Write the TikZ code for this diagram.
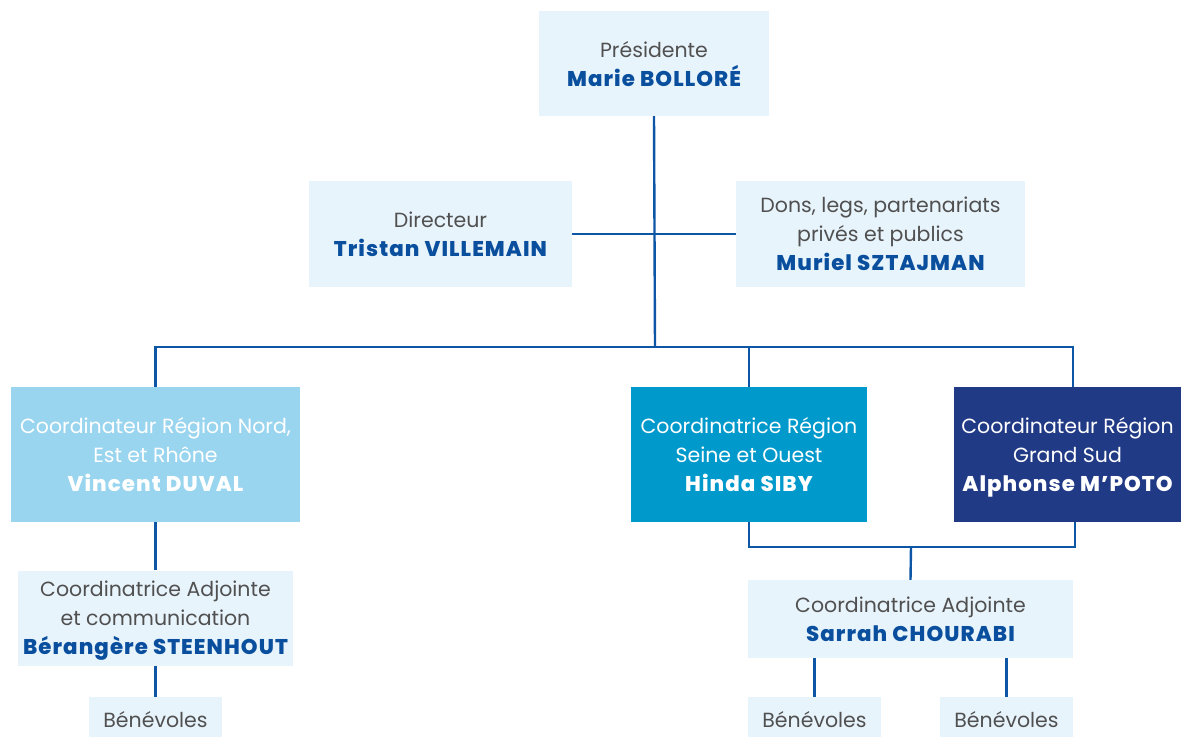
\documentclass[tikz,border=0pt]{standalone}
\usepackage{fontspec}
\setmainfont{Poppins}
\newfontfamily\heavyfont{Poppins ExtraBold}[LetterSpace=5]
\definecolor{lightbox}{HTML}{E8F4FC}
\definecolor{graytxt}{HTML}{505050}
\definecolor{namecol}{HTML}{0A4F9E}
\definecolor{linecol}{HTML}{0D56A6}
\definecolor{c1}{HTML}{9AD5EF}
\definecolor{c2}{HTML}{0099CC}
\definecolor{c3}{HTML}{213A86}
\newcommand\nm[1]{{\heavyfont\fontsize{21.3}{29}\selectfont\color{namecol}\raisebox{0pt}[\height][0pt]{#1}}}
\newcommand\wn[1]{{\heavyfont\fontsize{21.3}{29}\selectfont\raisebox{0pt}[\height][0pt]{#1}}}
\tikzset{
  box/.style={fill=lightbox, inner sep=0pt, align=center, text=graytxt,
    font=\fontsize{20.5}{29}\selectfont},
  cbox/.style={fill=#1, inner sep=0pt, align=center, text=white,
    font=\fontsize{20.5}{29}\selectfont},
  benbox/.style={box, minimum width=133pt, minimum height=40pt, text height=20pt, text depth=0pt},
  ln/.style={draw=linecol, line width=2.4pt}
}
\begin{document}
\begin{tikzpicture}[x=1pt,y=-1pt]
\useasboundingbox (0,0) rectangle (1181,737);
% nodes
\node[box, minimum width=230pt, minimum height=105pt] (pres) at (654,63.5) {Présidente\\\nm{Marie BOLLORÉ}};
\node[box, minimum width=263pt, minimum height=106pt] (dir) at (440.5,234) {Directeur\\\nm{Tristan VILLEMAIN}};
\node[box, minimum width=289pt, minimum height=106pt] (dons) at (880.5,234) {Dons, legs, partenariats\\privés et publics\\\nm{Muriel SZTAJMAN}};
\node[cbox=c1, minimum width=289pt, minimum height=135pt] (vinc) at (155.5,454.5) {Coordinateur Région Nord,\\Est et Rhône\\\wn{Vincent DUVAL}};
\node[cbox=c2, minimum width=236pt, minimum height=135pt] (hinda) at (749,454.5) {Coordinatrice Région\\Seine et Ouest\\\wn{Hinda SIBY}};
\node[cbox=c3, minimum width=227pt, minimum height=135pt] (alph) at (1067.5,454.5) {Coordinateur Région\\Grand Sud\\\wn{Alphonse M’POTO}};
\node[box, minimum width=275pt, minimum height=95pt] (ber) at (155.5,618) {Coordinatrice Adjointe\\et communication\\\nm{Bérangère STEENHOUT}};
\node[box, minimum width=325pt, minimum height=78pt] (sarrah) at (910.5,619) {Coordinatrice Adjointe\\\nm{Sarrah CHOURABI}};
\node[benbox] (ben1) at (155.5,717) {Bénévoles};
\node[benbox] (ben2) at (814.5,717) {Bénévoles};
\node[benbox] (ben3) at (1006.5,717) {Bénévoles};
% junctions
\coordinate (bus) at (655,347);
\coordinate (busr) at (1073,347);
\coordinate (sj) at (911,547);
\coordinate (sjr) at (1075,547);
% connectors
\draw[ln] (pres.south) -- (bus);
\draw[ln] (dir.east) -- (dons.west);
\draw[ln] (vinc.north) |- (busr) -- (busr |- alph.north);
\draw[ln] (hinda.north) -- (hinda.north |- bus);
\draw[ln] (hinda.south) |- (sjr) -- (sjr |- alph.south);
\draw[ln] (sj) -- (sarrah.north);
\draw[ln] (vinc.south) -- (ber.north);
\draw[ln] (ber.south) -- (ben1.north);
\draw[ln] (sarrah.south -| ben2.north) -- (ben2.north);
\draw[ln] (sarrah.south -| ben3.north) -- (ben3.north);
\end{tikzpicture}
\end{document}
